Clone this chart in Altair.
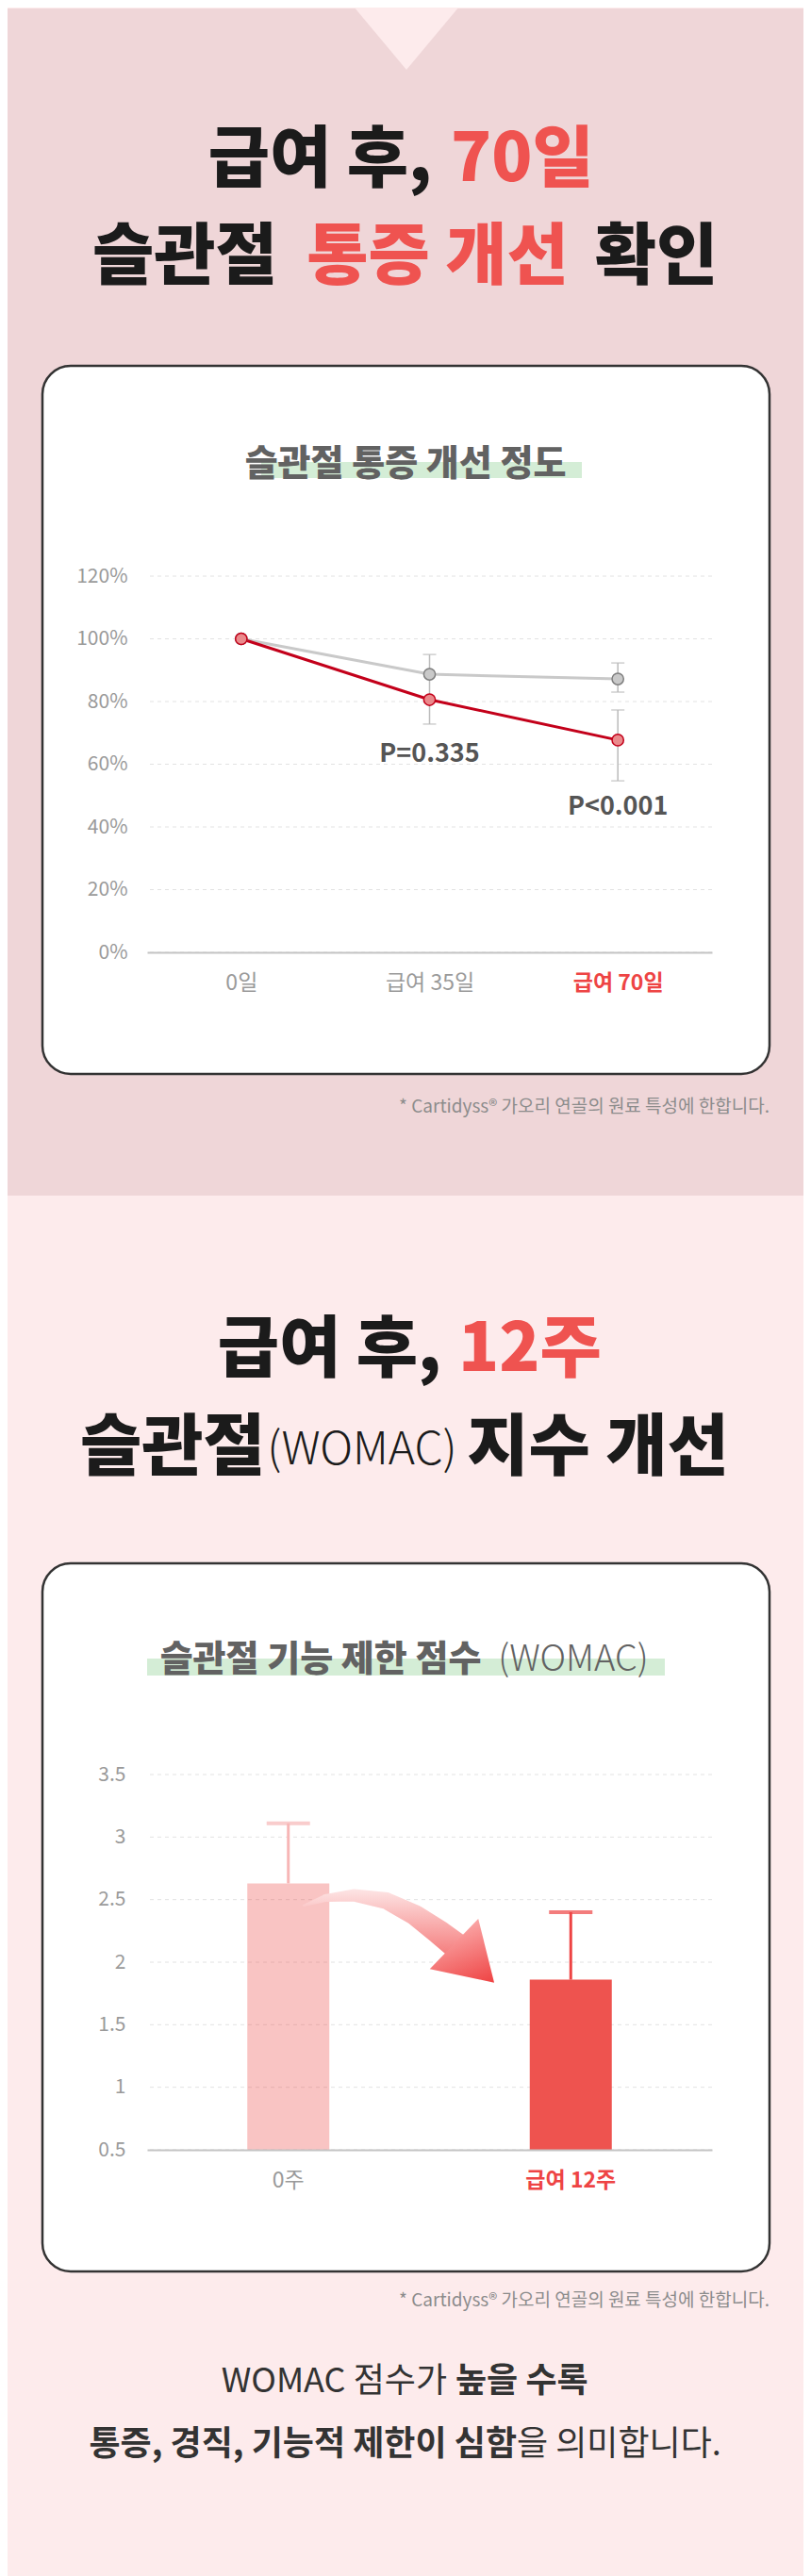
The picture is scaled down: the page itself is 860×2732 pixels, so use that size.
import altair as alt
import pandas as pd

# ---------------- data : chart 1 (통증 개선 정도) ----------------
days = ["0일", "급여 35일", "급여 70일"]
control_vals = [100, 88.7, 87.2]
test_vals = [100, 80.6, 67.7]
err_days = ["급여 35일", "급여 70일", "급여 70일"]
err_low = [72.8, 83.0, 54.7]
err_high = [95.0, 92.3, 77.3]
p_days = ["급여 35일", "급여 70일"]
p_texts = ["P=0.335", "P<0.001"]
p_ypos = [63.2, 46.3]
pct_ticks = [0, 20, 40, 60, 80, 100, 120]

# ---------------- data : chart 2 (WOMAC) ----------------
weeks = ["0주", "급여 12주"]
womac_vals = [2.63, 1.86]
womac_err_high = [3.11, 2.40]
womac_ticks = [0.5, 1, 1.5, 2, 2.5, 3, 3.5]

# curved arrow annotation (data coordinates of chart 2)
arrow_x = [0.277, 0.316, 0.366, 0.424, 0.474, 0.516, 0.548]
arrow_y = [2.452, 2.513, 2.535, 2.490, 2.377, 2.241, 2.128]
arrow_w = [2, 8, 13, 18, 22, 26, 28]
head_x = [0.570]
head_y = [2.030]

FONT = "Noto Sans CJK KR"
BLACK = "#1B1B1B"
RED = "#EF5350"
one = pd.DataFrame({"k": [0]})


def txt(s, x, y, size, color, weight=400, align="center"):
    return alt.Chart(one).mark_text(
        text=s, font=FONT, fontSize=size, fontWeight=weight, color=color,
        align=align, baseline="middle"
    ).encode(x=alt.value(x), y=alt.value(y))


def box(x1, x2, y1, y2, **kw):
    return alt.Chart(one).mark_rect(**kw).encode(
        x=alt.value(x1), x2=alt.value(x2), y=alt.value(y1), y2=alt.value(y2)
    )


# ======================= CHART A =======================
W1, H1 = 599, 399
xs1 = alt.Scale(domain=days, type="point", padding=0.5)
ys1 = alt.Scale(domain=[0, 120], zero=False, nice=False)
cond70 = "datum.value == '급여 70일'"
xaxis1 = alt.Axis(
    title=None, domain=True, domainColor="#C4C4C4", domainWidth=2, ticks=False,
    grid=False, labelFont=FONT, labelFontSize=23, labelPadding=21, labelAngle=0,
    labelColor={"condition": {"test": cond70, "value": "#EE4444"}, "value": "#9A9A9A"},
    labelFontWeight={"condition": {"test": cond70, "value": 700}, "value": 400},
    zindex=1,
)
yaxis1 = alt.Axis(
    title=None, values=pct_ticks, labelExpr="datum.value + '%'", domain=False,
    ticks=False, grid=False, labelFont=FONT, labelFontSize=21,
    labelColor="#9A9A9A", labelPadding=21, zindex=1,
)

bgA = box(-148, 696, -602, 657, fill="#EFD6D8", strokeWidth=0)
tri = alt.Chart(one).mark_point(
    shape="M -1 -0.6 L 1 -0.6 L 0 0.6 Z", size=11794, filled=True,
    color="#FDEBEC", opacity=1, strokeWidth=0
).encode(x=alt.value(275), y=alt.value(-569.5))
tA1 = txt("급여 후,", 302, -440, 71, BLACK, 900, "right")
tA2 = txt("70일", 322, -440, 71, RED, 900, "left")
tA3 = txt("슬관절", 40, -337, 71, BLACK, 900)
tA4 = txt("통증 개선", 308, -337, 71, RED, 900)
tA5 = txt("확인", 540, -337, 71, BLACK, 900)
cardA = box(-111, 660, -223, 528, fill="white", stroke="#333333",
            strokeWidth=2.5, cornerRadius=30)
hlA = box(121, 461, -121, -104, fill="#D4EDD6", strokeWidth=0)
ctA = txt("슬관절 통증 개선 정도", 274, -118, 38, "#626262", 900)
footA = txt("* Cartidyss® 가오리 연골의 원료 특성에 한합니다.", 660, 563, 19, "#8C8C8C", 400, "right")

gridA = alt.Chart(pd.DataFrame({"t": pct_ticks})).mark_rule(
    color="#E2E2E2", strokeDash=[4, 4], strokeWidth=1
).encode(y=alt.Y("t:Q", scale=ys1, axis=yaxis1))

df_err = pd.DataFrame({"day": err_days, "low": err_low, "high": err_high})
err_rule = alt.Chart(df_err).mark_rule(color="#BBBBBB", strokeWidth=1.5).encode(
    x=alt.X("day:N", scale=xs1, axis=xaxis1), y=alt.Y("low:Q", scale=ys1), y2="high:Q")
cap_lo = alt.Chart(df_err).mark_tick(color="#BBBBBB", size=14, thickness=1.5).encode(
    x=alt.X("day:N", scale=xs1), y=alt.Y("low:Q", scale=ys1))
cap_hi = alt.Chart(df_err).mark_tick(color="#BBBBBB", size=14, thickness=1.5).encode(
    x=alt.X("day:N", scale=xs1), y=alt.Y("high:Q", scale=ys1))

df_ctrl = pd.DataFrame({"day": days, "value": control_vals, "i": [0, 1, 2]})
df_test = pd.DataFrame({"day": days, "value": test_vals, "i": [0, 1, 2]})
line_g = alt.Chart(df_ctrl).mark_line(color="#C9C9C9", strokeWidth=3).encode(
    x=alt.X("day:N", scale=xs1), y=alt.Y("value:Q", scale=ys1), order="i:Q")
line_r = alt.Chart(df_test).mark_line(color="#C3001A", strokeWidth=3).encode(
    x=alt.X("day:N", scale=xs1), y=alt.Y("value:Q", scale=ys1), order="i:Q")
pt_g = alt.Chart(df_ctrl).mark_point(
    filled=True, fill="#C9C9C9", stroke="#7F7F7F", strokeWidth=1.5, size=150, opacity=1
).encode(x=alt.X("day:N", scale=xs1), y=alt.Y("value:Q", scale=ys1))
pt_r = alt.Chart(df_test).mark_point(
    filled=True, fill="#EA8A8C", stroke="#C3001A", strokeWidth=1.5, size=150, opacity=1
).encode(x=alt.X("day:N", scale=xs1), y=alt.Y("value:Q", scale=ys1))
df_p = pd.DataFrame({"day": p_days, "label": p_texts, "ypos": p_ypos})
ptxt = alt.Chart(df_p).mark_text(
    font=FONT, fontSize=27, fontWeight=700, color="#555555"
).encode(x=alt.X("day:N", scale=xs1), y=alt.Y("ypos:Q", scale=ys1), text="label:N")

chartA = alt.layer(
    bgA, tri, tA1, tA2, tA3, tA4, tA5, cardA, hlA, ctA, footA,
    gridA, err_rule, cap_lo, cap_hi, line_g, line_r, pt_g, pt_r, ptxt
).properties(width=W1, height=H1)

# ======================= CHART B =======================
W2, H2 = 599, 398
xs2 = alt.Scale(domain=weeks, paddingInner=0.7095, paddingOuter=0.3547)
ys2 = alt.Scale(domain=[0.5, 3.5], zero=False, nice=False)
cond12 = "datum.value == '급여 12주'"
xaxis2 = alt.Axis(
    title=None, domain=True, domainColor="#C4C4C4", domainWidth=2, ticks=False,
    grid=False, labelFont=FONT, labelFontSize=23, labelPadding=21, labelAngle=0,
    labelColor={"condition": {"test": cond12, "value": "#EE4444"}, "value": "#9A9A9A"},
    labelFontWeight={"condition": {"test": cond12, "value": 700}, "value": 400},
    zindex=1,
)
yaxis2 = alt.Axis(
    title=None, values=womac_ticks, format="~g", domain=False, ticks=False,
    grid=False, labelFont=FONT, labelFontSize=21, labelColor="#9A9A9A",
    labelPadding=23, zindex=1,
)

bgB = box(-148, 696, -614, 851, fill="#FDEBEC", strokeWidth=0)
tB1 = txt("급여 후,", 312, -449, 71, BLACK, 900, "right")
tB2 = txt("12주", 330, -449, 71, RED, 900, "left")
tB3 = txt("슬관절", 27, -345, 71, BLACK, 900)
tB4 = txt("(WOMAC)", 228, -343, 48, BLACK, 300)
tB5 = txt("지수 개선", 478, -345, 71, BLACK, 900)
cardB = box(-111, 660, -224, 527, fill="white", stroke="#333333",
            strokeWidth=2.5, cornerRadius=30)
hlB = box(0, 549, -123, -105, fill="#D4EDD6", strokeWidth=0)
ctB1 = txt("슬관절 기능 제한 점수", 184, -121, 38, "#626262", 900)
ctB2 = txt("(WOMAC)", 452, -121, 38, "#626262", 300)
footB = txt("* Cartidyss® 가오리 연골의 원료 특성에 한합니다.", 660, 558, 19, "#8C8C8C", 400, "right")
bt1 = txt("WOMAC 점수가", 318, 644, 36, "#333333", 400, "right")
bt2 = txt("높을 수록", 327, 644, 36, "#333333", 700, "left")
bt3 = txt("통증, 경직, 기능적 제한이 심함", 392, 711, 36, "#333333", 700, "right")
bt4 = txt("을 의미합니다.", 392, 711, 36, "#333333", 400, "left")

gridB = alt.Chart(pd.DataFrame({"t": womac_ticks})).mark_rule(
    color="#E2E2E2", strokeDash=[4, 4], strokeWidth=1
).encode(y=alt.Y("t:Q", scale=ys2, axis=yaxis2))

df_w = pd.DataFrame({"week": weeks, "value": womac_vals, "high": womac_err_high})
is0 = "datum.week == '0주'"
bars = alt.Chart(df_w).mark_bar(color="#EE534F").encode(
    x=alt.X("week:N", scale=xs2, axis=xaxis2),
    y=alt.Y("value:Q", scale=ys2), y2=alt.datum(0.5),
    opacity=alt.condition(is0, alt.value(0.34), alt.value(1.0)),
)
wrule = alt.Chart(df_w).mark_rule(strokeWidth=3).encode(
    x=alt.X("week:N", scale=xs2), y=alt.Y("value:Q", scale=ys2), y2="high:Q",
    color=alt.condition(is0, alt.value("#F7B6B6"), alt.value("#EE4444")),
)
wcap = alt.Chart(df_w).mark_tick(size=46, thickness=4).encode(
    x=alt.X("week:N", scale=xs2), y=alt.Y("high:Q", scale=ys2),
    color=alt.condition(is0, alt.value("#F7B6B6"), alt.value("#EE4444")),
)
inner = alt.layer(gridB, bars, wrule, wcap)

df_arrow = pd.DataFrame({"ax": arrow_x, "ay": arrow_y, "aw": arrow_w,
                         "ai": list(range(len(arrow_x)))})
trail_grad = alt.LinearGradient(
    gradient="linear",
    stops=[alt.GradientStop(offset=0, color="#FDE5E5"),
           alt.GradientStop(offset=1, color="#F47676")],
    x1=0, x2=0, y1=0, y2=1,
)
trail = alt.Chart(df_arrow).mark_trail(color=trail_grad).encode(
    x=alt.X("ax:Q", scale=alt.Scale(domain=[0, 1]), axis=None),
    y=alt.Y("ay:Q", scale=ys2),
    size=alt.Size("aw:Q", scale=None, legend=None),
    order="ai:Q",
)
head_grad = alt.LinearGradient(
    gradient="linear",
    stops=[alt.GradientStop(offset=0, color="#FAA6A6"),
           alt.GradientStop(offset=1, color="#EE3E3E")],
    x1=0, x2=1, y1=0, y2=0.6,
)
df_head = pd.DataFrame({"hx": head_x, "hy": head_y})
head = alt.Chart(df_head).mark_point(
    shape="M -0.6 -1 L -0.6 1 L 1 0 Z", size=5476, filled=True, angle=44,
    opacity=1, color=head_grad, strokeWidth=0,
).encode(
    x=alt.X("hx:Q", scale=alt.Scale(domain=[0, 1]), axis=None),
    y=alt.Y("hy:Q", scale=ys2),
)

chartB = alt.layer(
    bgB, tB1, tB2, tB3, tB4, tB5, cardB, hlB, ctB1, ctB2, footB,
    bt1, bt2, bt3, bt4, inner, trail, head
).resolve_scale(x="independent").properties(width=W2, height=H2)

chart = alt.vconcat(chartA, chartB, spacing=0).properties(
    padding=0, background="#FDEBEC"
).configure_view(stroke=None)

chart.save("out.html", embed_options={"renderer": "svg", "actions": False})
